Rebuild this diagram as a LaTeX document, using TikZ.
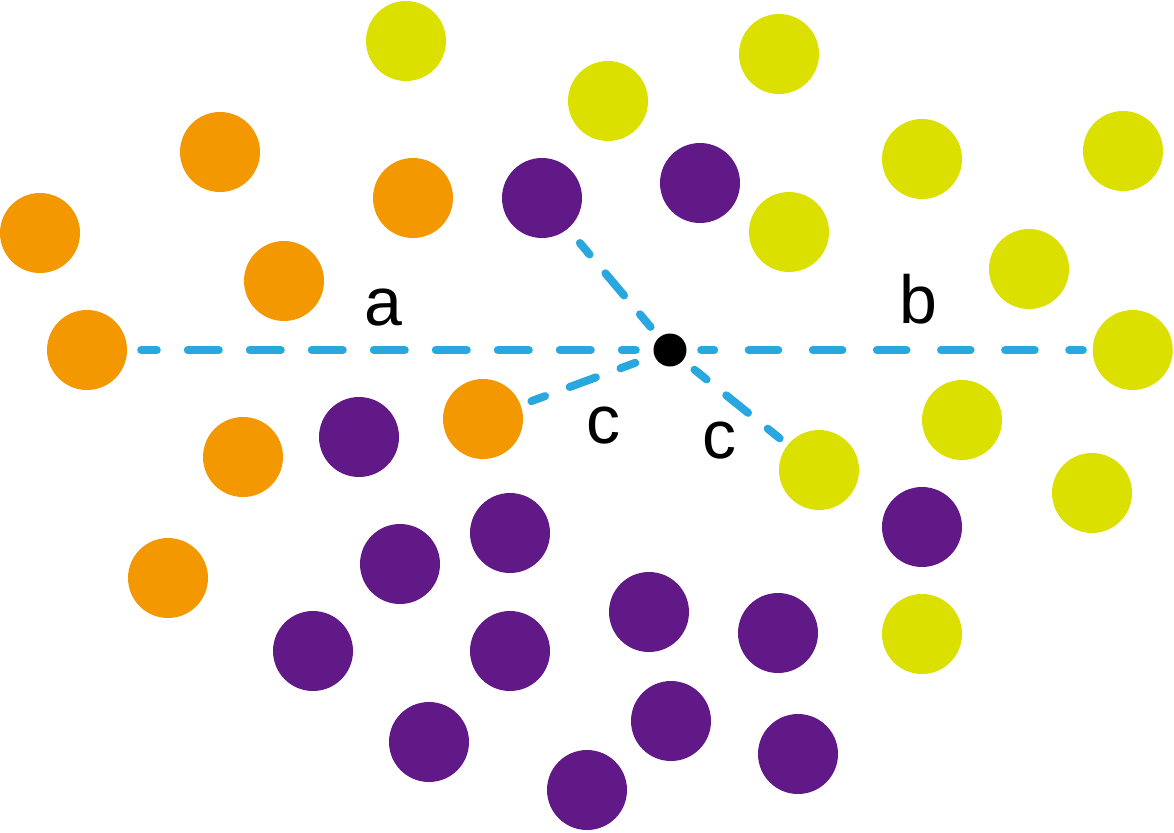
\documentclass[tikz,border=0pt]{standalone}
\usepackage{fontspec}
\setmainfont{Liberation Sans}
\definecolor{cyel}{RGB}{220,224,0}
\definecolor{corg}{RGB}{243,152,0}
\definecolor{cpur}{RGB}{96,25,134}
\definecolor{cblu}{RGB}{41,168,224}
\begin{document}
\begin{tikzpicture}[x=1pt,y=-1pt,
  disc/.style={circle,inner sep=0pt,minimum size=80pt},
  ye/.style={disc,fill=cyel},
  og/.style={disc,fill=corg},
  pu/.style={disc,fill=cpur},
  centre/.style={circle,inner sep=0pt,minimum size=33pt,fill=black},
  link/.style={draw=cblu,line width=8pt,line cap=round},
  lab/.style={anchor=base,inner sep=0pt,font=\fontsize{68}{80}\selectfont}]
\useasboundingbox (0,0) rectangle (1174,832);
% yellow
\node[ye] (y1) at (406,41) {};
\node[ye] (y2) at (608,101) {};
\node[ye] (y3) at (779,54) {};
\node[ye] (y4) at (922,159) {};
\node[ye] (y5) at (1123,151) {};
\node[ye] (y6) at (789,232) {};
\node[ye] (y7) at (1029,269) {};
\node[ye] (y8) at (1132.7,350) {};
\node[ye] (y9) at (962,420) {};
\node[ye] (y10) at (819,470) {};
\node[ye] (y11) at (1092,493) {};
\node[ye] (y12) at (922,634) {};
% orange
\node[og] (o1) at (220,152) {};
\node[og] (o2) at (413,198) {};
\node[og] (o3) at (40,233) {};
\node[og] (o4) at (284,281) {};
\node[og] (o5) at (87,350) {};
\node[og] (o6) at (243,457) {};
\node[og] (o7) at (483,419) {};
\node[og] (o8) at (168,578) {};
% purple
\node[pu] (p1) at (542,198) {};
\node[pu] (p2) at (700,183) {};
\node[pu] (p3) at (359,437) {};
\node[pu] (p4) at (510,533) {};
\node[pu] (p5) at (400,564) {};
\node[pu] (p6) at (649,612) {};
\node[pu] (p7) at (313,651) {};
\node[pu] (p8) at (510,651) {};
\node[pu] (p9) at (778,633) {};
\node[pu] (p10) at (922,527) {};
\node[pu] (p11) at (429,742) {};
\node[pu] (p12) at (671,721) {};
\node[pu] (p13) at (798,754) {};
\node[pu] (p14) at (587,790) {};
% centre
\node[centre] (m) at (670,350) {};
% connectors
\draw[link,dash pattern={on 31pt off 31pt},dash phase=17pt,shorten <=17.5pt,shorten >=14pt] (m) -- (o5);
\draw[link,dash pattern={on 29.6pt off 34.5pt},dash phase=16.6pt,shorten <=14.5pt,shorten >=9.7pt] (m) -- (y8);
\draw[link,dash pattern={on 29pt off 24.6pt},dash phase=12.5pt,shorten <=13.5pt,shorten >=18.6pt] (m) -- (p1);
\draw[link,dash pattern={on 28pt off 26.2pt},dash phase=12.3pt,shorten <=20.4pt,shorten >=11.4pt] (m) -- (o7);
\draw[link,dash pattern={on 28pt off 25.2pt},dash phase=12.4pt,shorten <=14.7pt,shorten >=10.3pt] (m) -- (y10);
% labels
\node[lab] (la) at (383,325) {a};
\node[lab] (lb) at (918,323) {b};
\node[lab] (lc1) at (603,443) {c};
\node[lab] (lc2) at (719,458) {c};
\end{tikzpicture}
\end{document}
